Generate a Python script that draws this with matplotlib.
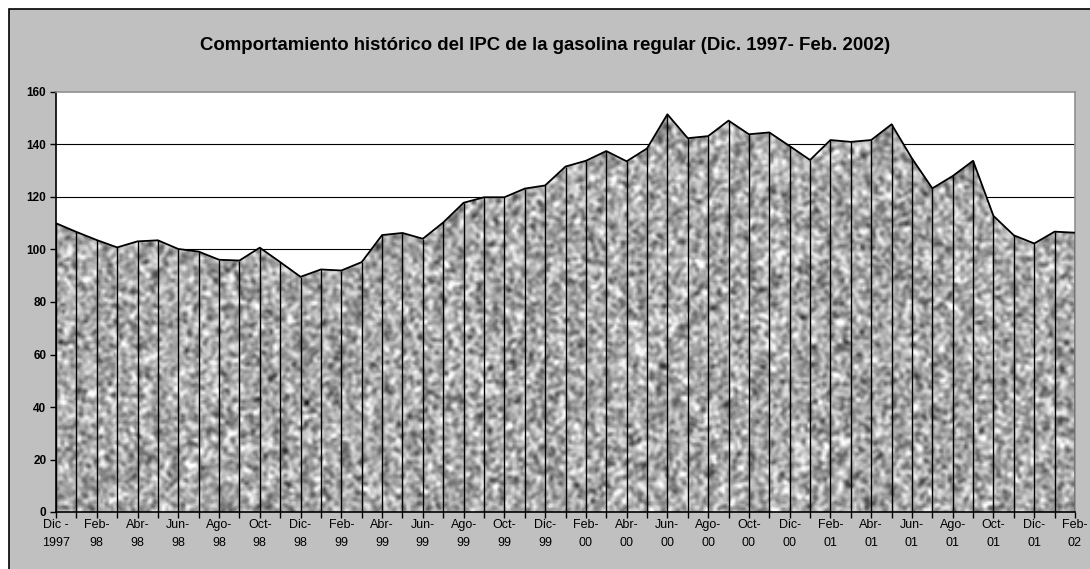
"""IPC de la gasolina regular, Dic. 1997 - Feb. 2002 (area chart with granite fill)."""

import matplotlib

matplotlib.use("Agg")
import matplotlib.pyplot as plt
import numpy as np
from matplotlib.patches import Rectangle

plt.rcParams["font.family"] = ["Liberation Sans", "DejaVu Sans"]

# monthly index values, Dec 1997 .. Feb 2002
ipc = [
    110.0, 106.7, 103.6, 100.8, 103.1, 103.5, 100.2, 99.2, 96.1, 95.8,
    100.7, 95.2, 89.6, 92.4, 92.0, 95.2, 105.5, 106.3, 104.1, 110.3,
    117.8, 119.9, 119.9, 123.2, 124.4, 131.6, 133.8, 137.5, 133.6, 138.5,
    151.5, 142.4, 143.2, 149.1, 143.9, 144.6, 139.4, 134.1, 141.7, 141.0,
    141.7, 147.7, 134.7, 123.3, 128.0, 133.8, 112.8, 105.4, 102.3, 106.8,
    106.4,
]
tick_labels = [
    "Dic -\n1997", "Feb-\n98", "Abr-\n98", "Jun-\n98", "Ago-\n98", "Oct-\n98",
    "Dic-\n98", "Feb-\n99", "Abr-\n99", "Jun-\n99", "Ago-\n99", "Oct-\n99",
    "Dic-\n99", "Feb-\n00", "Abr-\n00", "Jun-\n00", "Ago-\n00", "Oct-\n00",
    "Dic-\n00", "Feb-\n01", "Abr-\n01", "Jun-\n01", "Ago-\n01", "Oct-\n01",
    "Dic-\n01", "Feb-\n02",
]
y_ticks = [0, 20, 40, 60, 80, 100, 120, 140, 160]

W, H = 1090, 569
fig = plt.figure(figsize=(W / 100, H / 100), dpi=100)
fig.patch.set_facecolor("white")

# grey chart area with black left/top border (cropped at right and bottom)
fig.patches.append(Rectangle((9 / W, -0.1), 1.2, 1.1 - 9 / H, transform=fig.transFigure,
                             facecolor="#c0c0c0", edgecolor="black", linewidth=1.2, zorder=-5))

ax = fig.add_axes([56 / W, (H - 512) / H, (1075 - 56) / W, (512 - 92) / H])
ax.set_facecolor("white")
ax.set_zorder(2)

x = np.arange(len(ipc))
ax.set_xlim(0, len(ipc) - 1)
ax.set_ylim(0, 160)

for v in y_ticks[1:-1]:
    ax.axhline(v, color="black", linewidth=0.8, zorder=1)

# granite texture (style only), clipped to the area under the series
rng = np.random.default_rng(3)
noise = rng.normal(size=(200, 480))
k = np.array([1, 2, 1]) / 4
noise = np.apply_along_axis(lambda r: np.convolve(r, k, mode="same"), 1, noise)
noise = np.apply_along_axis(lambda c: np.convolve(c, k, mode="same"), 0, noise)
area = ax.fill_between(x, 0, ipc, facecolor="none", edgecolor="none", zorder=2)
img = ax.imshow(noise, cmap="gray", vmin=-1.9, vmax=0.95, extent=(0, len(ipc) - 1, 0, 160),
                aspect="auto", interpolation="bilinear", zorder=2)
img.set_clip_path(area.get_paths()[0], transform=ax.transData)

ax.vlines(x, 0, ipc, colors="black", linewidth=1.0, zorder=3)
ax.plot(x, ipc, color="black", linewidth=1.3, zorder=4)

ax.set_xticks(x, minor=True)
ax.set_xticks(x[::2])
ax.set_xticklabels(tick_labels, fontsize=9, linespacing=1.65)
ax.set_yticks(y_ticks)
ax.set_yticklabels([str(v) for v in y_ticks], fontsize=8.5, fontweight="bold")
ax.tick_params(axis="x", which="both", length=4, width=1, pad=1)
ax.tick_params(axis="y", length=4, width=1, pad=3)

for side in ("left", "bottom"):
    ax.spines[side].set_color("black")
    ax.spines[side].set_linewidth(1.2)
for side in ("top", "right"):
    ax.spines[side].set_color("#909090")
    ax.spines[side].set_linewidth(1.2)
ax.spines["bottom"].set_zorder(5)

fig.text(545 / W, 1 - 45 / H,
         "Comportamiento histórico del IPC de la gasolina regular (Dic. 1997- Feb. 2002)",
         ha="center", va="center", fontsize=13.4, fontweight="bold")

fig.savefig("out.png", dpi=100)
